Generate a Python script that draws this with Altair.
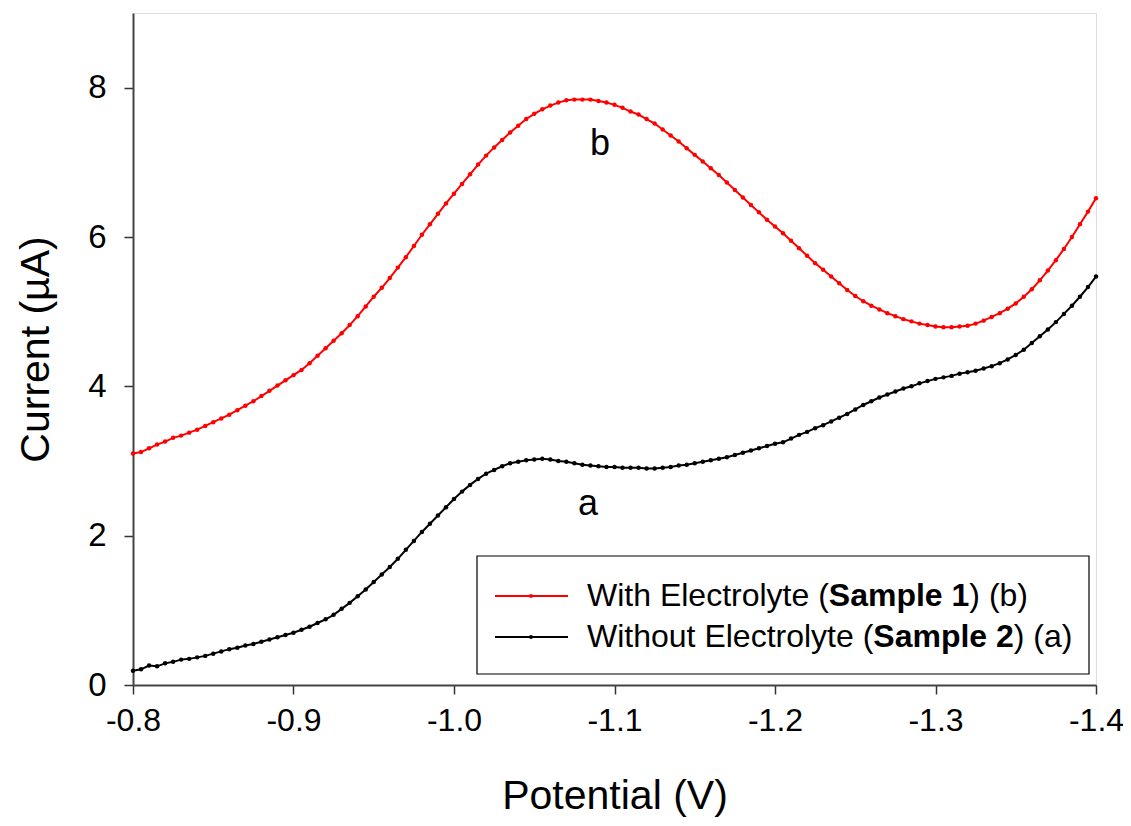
import altair as alt
import pandas as pd

# ---------------- data ----------------
potential = [round(-0.800 - 0.005 * i, 3) for i in range(121)]

current_with = [
    3.10, 3.12, 3.17, 3.22, 3.26, 3.31, 3.34, 3.38, 3.42, 3.47,
    3.52, 3.57, 3.62, 3.68, 3.74, 3.80, 3.87, 3.94, 4.01, 4.08,
    4.15, 4.22, 4.31, 4.41, 4.51, 4.61, 4.71, 4.82, 4.94, 5.07,
    5.20, 5.32, 5.45, 5.59, 5.73, 5.88, 6.03, 6.17, 6.31, 6.45,
    6.58, 6.71, 6.84, 6.97, 7.09, 7.20, 7.30, 7.40, 7.49, 7.58,
    7.65, 7.71, 7.76, 7.80, 7.83, 7.84, 7.84, 7.84, 7.82, 7.80,
    7.77, 7.73, 7.68, 7.64, 7.58, 7.52, 7.44, 7.36, 7.28, 7.19,
    7.10, 7.01, 6.92, 6.83, 6.73, 6.63, 6.53, 6.43, 6.33, 6.23,
    6.14, 6.05, 5.95, 5.85, 5.75, 5.65, 5.56, 5.47, 5.38, 5.29,
    5.21, 5.14, 5.08, 5.03, 4.98, 4.94, 4.90, 4.87, 4.84, 4.82,
    4.80, 4.79, 4.79, 4.80, 4.81, 4.84, 4.88, 4.93, 4.98, 5.04,
    5.11, 5.20, 5.30, 5.42, 5.55, 5.69, 5.84, 6.00, 6.17, 6.34,
    6.52,
]

current_without = [
    0.19, 0.21, 0.26, 0.25, 0.29, 0.31, 0.34, 0.35, 0.37, 0.39,
    0.42, 0.45, 0.48, 0.50, 0.53, 0.55, 0.58, 0.61, 0.64, 0.67,
    0.70, 0.74, 0.78, 0.83, 0.88, 0.94, 1.02, 1.10, 1.19, 1.28,
    1.38, 1.48, 1.58, 1.69, 1.81, 1.93, 2.05, 2.16, 2.27, 2.38,
    2.49, 2.59, 2.68, 2.76, 2.83, 2.88, 2.93, 2.97, 2.99, 3.01,
    3.02, 3.03, 3.02, 3.00, 2.99, 2.97, 2.95, 2.94, 2.93, 2.92,
    2.92, 2.91, 2.91, 2.91, 2.90, 2.90, 2.91, 2.92, 2.94, 2.95,
    2.97, 2.99, 3.01, 3.03, 3.05, 3.08, 3.11, 3.14, 3.17, 3.20,
    3.23, 3.25, 3.30, 3.35, 3.39, 3.44, 3.48, 3.53, 3.58, 3.63,
    3.69, 3.75, 3.80, 3.85, 3.89, 3.93, 3.97, 4.00, 4.04, 4.07,
    4.10, 4.12, 4.14, 4.17, 4.19, 4.21, 4.24, 4.27, 4.31, 4.36,
    4.42, 4.49, 4.58, 4.67, 4.76, 4.86, 4.97, 5.08, 5.20, 5.33,
    5.47,
]

series_names = ["With Electrolyte", "Without Electrolyte"]
series_colors = ["#FF0000", "#000000"]

x_ticks = [-0.8, -0.9, -1.0, -1.1, -1.2, -1.3, -1.4]
y_ticks = [0, 2, 4, 6, 8]

annot_text = ["b", "a"]
annot_x = [-1.091, -1.0835]
annot_y = [7.25, 2.43]

# ---------------- build ----------------
FONT = "Liberation Sans"
W, H = 963, 672

df = pd.DataFrame({
    "Potential": potential * 2,
    "Current": current_with + current_without,
    "Series": [series_names[0]] * len(potential) + [series_names[1]] * len(potential),
})

xscale = alt.Scale(domain=[-1.4, -0.8], reverse=True, nice=False, zero=False)
yscale = alt.Scale(domain=[0, 9], nice=False, zero=True)

x_axis = alt.Axis(
    values=x_ticks, labelExpr="replace(format(datum.value, '.1f'), '\u2212', '-')",
    title="Potential (V)", titleFont=FONT, titleFontSize=41, titleFontWeight="normal",
    titleColor="#000", titleBaseline="alphabetic", titleY=123,
    labelFont=FONT, labelFontSize=32, labelColor="#000", labelPadding=11,
    tickSize=9, tickColor="#333", tickWidth=1.5, domainColor="#444", domainWidth=2,
    grid=False, labelFlush=False, labelOverlap=False,
)
y_axis = alt.Axis(
    values=y_ticks, format="d",
    title="Current (\u00b5A)", titleFont=FONT, titleFontSize=41, titleFontWeight="normal",
    titleColor="#000", titleBaseline="middle", titleX=-97, titleAngle=-90,
    labelFont=FONT, labelFontSize=33, labelColor="#000", labelPadding=18,
    tickSize=9, tickColor="#333", tickWidth=1.5, domainColor="#444", domainWidth=2,
    grid=False, labelFlush=False, labelOverlap=False,
)

color = alt.Color("Series:N", scale=alt.Scale(domain=series_names, range=series_colors), legend=None)

lines = alt.Chart(df).mark_line(
    strokeWidth=2,
    point=alt.OverlayMarkDef(filled=True, size=20, opacity=1),
).encode(
    x=alt.X("Potential:Q", scale=xscale, axis=x_axis),
    y=alt.Y("Current:Q", scale=yscale, axis=y_axis),
    color=color,
)

annot_df = pd.DataFrame({"Potential": annot_x, "Current": annot_y, "label": annot_text})
annots = alt.Chart(annot_df).mark_text(
    font=FONT, fontSize=36, color="#000", baseline="middle", align="center"
).encode(
    x=alt.X("Potential:Q", scale=xscale),
    y=alt.Y("Current:Q", scale=yscale),
    text="label:N",
)

# ---------------- legend (drawn by hand for mixed bold text) ----------------
one = pd.DataFrame({"_": [0]})
REG = {"W": .944, "i": .222, "t": .278, "h": .556, " ": .278, "E": .667, "l": .222,
       "e": .556, "c": .5, "r": .333, "o": .556, "y": .5, "(": .333, ")": .333,
       "b": .556, "a": .556, "u": .556}
BLD = {"S": .667, "a": .556, "m": .889, "p": .611, "l": .278, "e": .556, " ": .278,
       "1": .556, "2": .556}
LFS = 32


def tw(s, table):
    return sum(table[c] for c in s) * LFS


legend_layers = [
    alt.Chart(one).mark_rect(fill="white", stroke="#000", strokeWidth=1.2).encode(
        x=alt.value(344), x2=alt.value(956), y=alt.value(543), y2=alt.value(661))
]
rows = [
    (583, series_colors[0], ["With Electrolyte (", "Sample 1", ") (b)"]),
    (624, series_colors[1], ["Without Electrolyte (", "Sample 2", ") (a)"]),
]
for ypx, col, parts in rows:
    legend_layers.append(alt.Chart(one).mark_rule(color=col, strokeWidth=2).encode(
        x=alt.value(362), x2=alt.value(435), y=alt.value(ypx)))
    legend_layers.append(alt.Chart(one).mark_point(filled=True, color=col, size=16, opacity=1).encode(
        x=alt.value(398), y=alt.value(ypx)))
    xpos = 454
    for k, part in enumerate(parts):
        bold = (k == 1)
        legend_layers.append(alt.Chart(one).mark_text(
            font=FONT, fontSize=LFS, fontWeight="bold" if bold else "normal",
            color="#000", align="left", baseline="middle").encode(
            x=alt.value(xpos), y=alt.value(ypx), text=alt.value(part)))
        xpos += tw(part, BLD if bold else REG)

chart = alt.layer(lines, annots, *legend_layers).properties(
    width=W, height=H,
    autosize=alt.AutoSizeParams(type="none"),
    padding={"left": 125, "top": 5, "right": 27, "bottom": 133},
).configure_view(stroke="#444", strokeWidth=2).configure(background="white")

chart.save("out.html", embed_options={"renderer": "svg", "actions": False})
